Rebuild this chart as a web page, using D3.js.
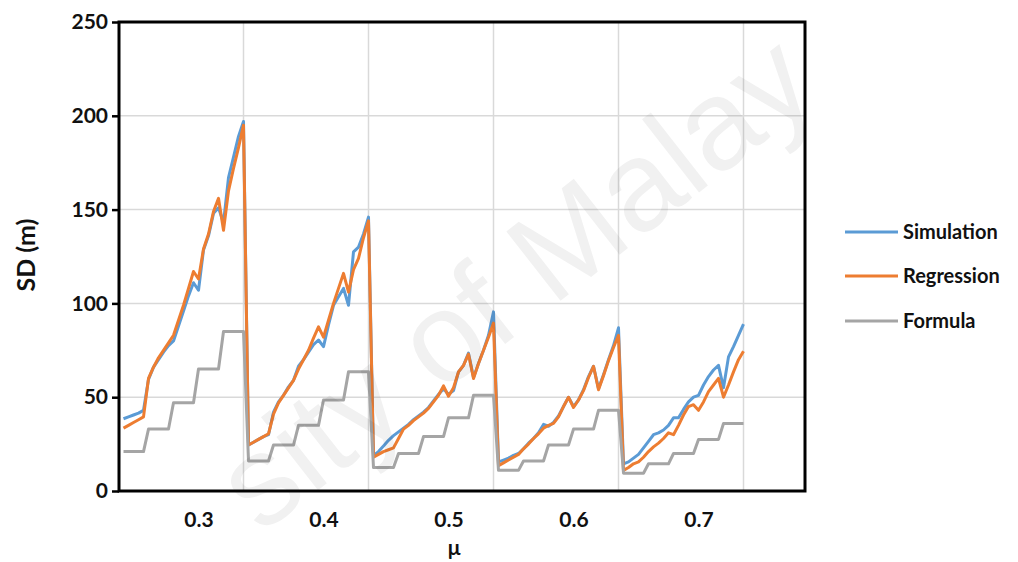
<!DOCTYPE html>
<html>
<head>
<meta charset="utf-8">
<script src="https://cdn.jsdelivr.net/npm/d3@7"></script>
<style>
  body { margin: 0; background: #fff; }
  svg { display: block; }
  text { font-family: Lato, "Open Sans", sans-serif; font-weight: 700; fill: #111; }
</style>
</head>
<body>
<svg id="chart" width="1018" height="562"></svg>
<script>
// μ grid: 125 sample points, 0.004 apart, in five runs of 25
const mu = d3.range(125).map(i => +(0.24 + 0.004 * i).toFixed(3));

// SD (m) by run, 25 points per run
const simulation = [
  [38.5, 39.5, 40.5, 41.5, 43, 59.5, 66, 70, 74, 77.5, 80, 88, 96, 104, 111, 107, 128.5, 136, 148, 151, 143, 167, 178, 189, 197],
  [24.5, 26, 27.5, 29, 30, 42, 47.5, 51, 55.5, 59, 66.5, 70, 74, 78, 80.5, 77, 88.5, 99, 103.5, 108, 99, 127.5, 130, 137, 146],
  [19, 21, 24, 27, 29.5, 31.5, 33.5, 35.5, 38, 40, 42, 44.5, 48, 51.5, 54.5, 51.5, 53.5, 63.5, 67, 73.5, 60.5, 68, 75, 83, 95.5],
  [15.5, 16.5, 17.5, 19, 20, 22.5, 25.5, 28, 31, 35.5, 34.5, 36.5, 40, 45, 50, 45, 48.5, 54, 61, 66.5, 54.5, 62, 70, 77.5, 87],
  [14.5, 15.5, 17.5, 19.5, 23, 26.5, 30, 31, 32.5, 35, 39, 39, 43.5, 47.5, 50, 51, 56.5, 61, 64.5, 67, 55, 71.5, 77, 83, 89]
];
const regression = [
  [33.5, 35, 36.5, 38, 39.5, 60, 66, 71, 75, 79, 83, 91, 99, 108, 117, 113, 129, 137, 149, 156, 139, 160, 172, 183, 195],
  [24.5, 26, 27.5, 29, 30.5, 41, 47, 51, 55, 59, 65, 70, 75, 81.5, 87.5, 82, 91, 100, 108, 116, 106, 118, 124, 135, 144],
  [18, 19.5, 21, 22, 23, 28, 33, 35, 37.5, 39.5, 41.5, 44, 47.5, 51, 56, 50.5, 55, 63.5, 67, 73, 60, 68, 75, 82, 89.5],
  [13.5, 15, 16.5, 18, 19.5, 22.5, 25, 28, 30.5, 33.5, 35, 36, 39.5, 45, 50, 44.5, 48.5, 53.5, 60.5, 66.5, 54, 61.5, 69.5, 76.5, 83],
  [11, 12.5, 14.5, 15.5, 18, 21, 23.5, 25.5, 28, 31, 30, 35, 40.5, 45, 46, 43, 47.5, 53, 56.5, 60, 50, 56.5, 63.5, 70, 74.5]
];
const formula = [
  [21, 21, 21, 21, 21, 33, 33, 33, 33, 33, 47, 47, 47, 47, 47, 65, 65, 65, 65, 65, 85, 85, 85, 85, 85],
  [16, 16, 16, 16, 16, 24.5, 24.5, 24.5, 24.5, 24.5, 35, 35, 35, 35, 35, 48.5, 48.5, 48.5, 48.5, 48.5, 63.5, 63.5, 63.5, 63.5, 63.5],
  [12.5, 12.5, 12.5, 12.5, 12.5, 20, 20, 20, 20, 20, 29, 29, 29, 29, 29, 39, 39, 39, 39, 39, 51, 51, 51, 51, 51],
  [11, 11, 11, 11, 11, 16, 16, 16, 16, 16, 24.5, 24.5, 24.5, 24.5, 24.5, 33, 33, 33, 33, 33, 43, 43, 43, 43, 43],
  [9.5, 9.5, 9.5, 9.5, 9.5, 14.5, 14.5, 14.5, 14.5, 14.5, 20, 20, 20, 20, 20, 27.5, 27.5, 27.5, 27.5, 27.5, 36, 36, 36, 36, 36]
];

const xTicks = [0.3, 0.4, 0.5, 0.6, 0.7];
const xGrid = [0.336, 0.436, 0.536, 0.636, 0.736];   // end of each run
const yTicks = [0, 50, 100, 150, 200, 250];

const seriesNames = ["Simulation", "Regression", "Formula"];
const seriesColors = ["#5B9BD5", "#ED7D31", "#A5A5A5"];

const svg = d3.select("#chart");
const W = 1018, H = 562;
const plot = { left: 119, right: 805, top: 22, bottom: 491 };

const x = d3.scaleLinear().domain([0.2364, 0.7852]).range([plot.left, plot.right]);
const y = d3.scaleLinear().domain([0, 250]).range([plot.bottom, plot.top]);

svg.append("rect").attr("width", W).attr("height", H).attr("fill", "#fff");

// gridlines
const grid = svg.append("g").attr("stroke", "#D9D9D9").attr("stroke-width", 1.5);
grid.selectAll("line.h").data(yTicks.slice(1, -1)).join("line")
  .attr("x1", plot.left).attr("x2", plot.right)
  .attr("y1", d => y(d)).attr("y2", d => y(d));
grid.selectAll("line.v").data(xGrid).join("line")
  .attr("y1", plot.top).attr("y2", plot.bottom)
  .attr("x1", d => x(d)).attr("x2", d => x(d));

// series lines
const flat = arr => arr.flat().map((v, i) => ({ mu: mu[i], v }));
const line = d3.line().x(d => x(d.mu)).y(d => y(d.v));
const data = [simulation, regression, formula].map(flat);
svg.append("g").selectAll("path").data(data).join("path")
  .attr("d", line)
  .attr("fill", "none")
  .attr("stroke", (d, i) => seriesColors[i])
  .attr("stroke-width", 3)
  .attr("stroke-linejoin", "round");

// plot frame
svg.append("rect")
  .attr("x", plot.left).attr("y", plot.top)
  .attr("width", plot.right - plot.left).attr("height", plot.bottom - plot.top)
  .attr("fill", "none").attr("stroke", "#000").attr("stroke-width", 3);

// axes
const yAxis = svg.append("g").attr("transform", `translate(${plot.left},0)`)
  .call(d3.axisLeft(y).tickValues(yTicks).tickSize(7).tickPadding(4));
yAxis.select(".domain").remove();
yAxis.selectAll(".tick line").attr("stroke", "#000").attr("stroke-width", 2.5);
yAxis.selectAll("text").style("font-size", "21px").style("font-family", "Lato").style("font-weight", 700).attr("fill", "#111");

const xAxis = svg.append("g").attr("transform", `translate(0,${plot.bottom})`)
  .call(d3.axisBottom(x).tickValues(xTicks).tickSize(0).tickPadding(21).tickFormat(d3.format(".1f")));
xAxis.select(".domain").remove();
xAxis.selectAll("text").style("font-size", "21px").style("font-family", "Lato").style("font-weight", 700).attr("fill", "#111");

// axis titles
svg.append("text").attr("x", 454).attr("y", 555).attr("text-anchor", "middle")
  .style("font-size", "21px").text("μ");
svg.append("text").attr("transform", "translate(35,255) rotate(-90)").attr("text-anchor", "middle")
  .style("font-size", "25px").text("SD (m)");

// legend
const legend = svg.append("g");
const ly = [232, 276, 321];
seriesNames.forEach((name, i) => {
  legend.append("line").attr("x1", 845).attr("x2", 898).attr("y1", ly[i]).attr("y2", ly[i])
    .attr("stroke", seriesColors[i]).attr("stroke-width", 3);
  legend.append("text").attr("x", 903).attr("y", ly[i]).attr("dy", "0.35em")
    .style("font-size", "20px").text(name);
});

// repository watermark
svg.append("text")
  .attr("transform", "translate(541,316) rotate(-38)")
  .attr("text-anchor", "middle")
  .style("font-family", "Liberation Sans").style("font-weight", 400).style("font-size", "128px")
  .attr("fill", "#000").attr("fill-opacity", 0.06)
  .text("sity of Malay");
</script>
</body>
</html>
